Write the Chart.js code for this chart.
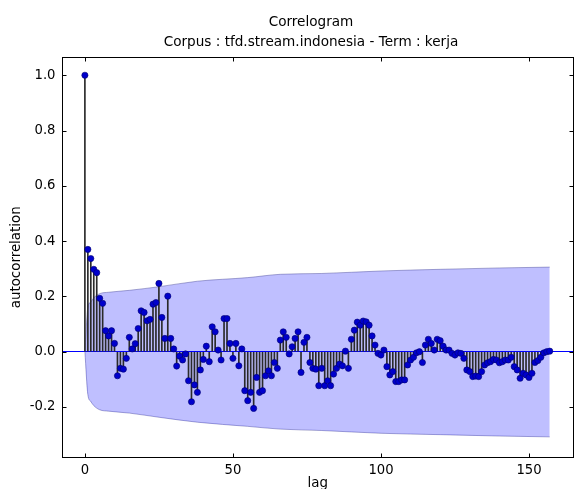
<!DOCTYPE html>
<html>
<head>
<meta charset="utf-8">
<script src="https://cdn.jsdelivr.net/npm/chart.js@4.4.1/dist/chart.umd.min.js"></script>
<style>
  html, body { margin: 0; padding: 0; background: #fff; }
  #wrap { width: 579px; height: 489px; position: relative; }
</style>
</head>
<body>
<div id="wrap"><canvas id="acfChart"></canvas></div>
<script>
// autocorrelation, one value per lag (0..157)
var acf = [
    1.0, 0.370, 0.337, 0.298, 0.286, 0.193, 0.175, 0.076, 0.057, 0.076,
    0.030, -0.087, -0.060, -0.063, -0.024, 0.052, 0.010, 0.029, 0.084, 0.148,
    0.142, 0.112, 0.117, 0.172, 0.178, 0.247, 0.124, 0.048, 0.201, 0.048,
    0.010, -0.052, -0.016, -0.030, -0.008, -0.105, -0.181, -0.120, -0.147, -0.066,
    -0.028, 0.020, -0.036, 0.090, 0.072, 0.006, -0.030, 0.120, 0.120, 0.030,
    -0.024, 0.030, -0.051, 0.010, -0.141, -0.177, -0.147, -0.205, -0.093, -0.147,
    -0.141, -0.087, -0.069, -0.087, -0.039, -0.060, 0.042, 0.072, 0.052, -0.008,
    0.018, 0.048, 0.072, -0.075, 0.034, 0.052, -0.039, -0.060, -0.063, -0.123,
    -0.060, -0.123, -0.105, -0.123, -0.081, -0.060, -0.045, -0.051, 0.002, -0.060,
    0.045, 0.078, 0.107, 0.096, 0.111, 0.108, 0.096, 0.057, 0.024, -0.006,
    -0.012, 0.006, -0.054, -0.084, -0.072, -0.108, -0.108, -0.102, -0.102, -0.048,
    -0.030, -0.020, -0.004, 0.000, -0.039, 0.024, 0.045, 0.030, 0.006, 0.045,
    0.040, 0.020, 0.006, 0.006, -0.006, -0.012, -0.004, -0.006, -0.024, -0.066,
    -0.072, -0.090, -0.088, -0.090, -0.072, -0.048, -0.040, -0.036, -0.028, -0.030,
    -0.040, -0.036, -0.030, -0.030, -0.020, -0.054, -0.066, -0.096, -0.078, -0.084,
    -0.093, -0.078, -0.039, -0.032, -0.020, -0.004, 0.000, 0.002
];
var lags = acf.map(function (v, i) { return i; });

var bandLags  = [0, 1, 2, 3, 5, 8, 15, 25, 38, 55, 66, 80, 100, 120, 140, 157];
var bandUpper = [0, 0.16, 0.18, 0.195, 0.21, 0.215, 0.222, 0.235, 0.255, 0.268, 0.28, 0.283, 0.292, 0.298, 0.303, 0.306];
var bandLower = [0, -0.155, -0.18, -0.195, -0.21, -0.215, -0.222, -0.237, -0.255, -0.27, -0.28, -0.285, -0.295, -0.3, -0.305, -0.308];

var xTicks = [0, 50, 100, 150];
var yTicks = [-0.2, 0.0, 0.2, 0.4, 0.6, 0.8, 1.0];
var titleLines = ['Correlogram', 'Corpus : tfd.stream.indonesia - Term : kerja'];

var FONT = '"DejaVu Sans", sans-serif';

function pts(xs, ys) {
    return xs.map(function (x, i) { return { x: x, y: ys[i] }; });
}

// box around the axes, inward ticks, and the two title lines
var framePlugin = {
    id: 'frame',
    afterDatasetsDraw: function (chart) {
        var a = chart.chartArea, c = chart.ctx;
        var L = Math.round(a.left) + 0.5, R = Math.round(a.right) - 0.5;
        var T = Math.round(a.top) + 0.5, B = Math.round(a.bottom) - 0.5;
        c.save();
        c.strokeStyle = '#000';
        c.lineWidth = 1;
        c.strokeRect(L, T, R - L, B - T);
        c.beginPath();
        chart.scales.x.ticks.forEach(function (t) {
            var px = Math.round(chart.scales.x.getPixelForValue(t.value)) + 0.5;
            c.moveTo(px, B); c.lineTo(px, B - 4);
            c.moveTo(px, T); c.lineTo(px, T + 4);
        });
        chart.scales.y.ticks.forEach(function (t) {
            var py = Math.round(chart.scales.y.getPixelForValue(t.value)) + 0.5;
            c.moveTo(L, py); c.lineTo(L + 4, py);
            c.moveTo(R, py); c.lineTo(R - 4, py);
        });
        c.stroke();
        c.restore();
    },
    afterDraw: function (chart) {
        var c = chart.ctx;
        c.save();
        c.fillStyle = '#000';
        c.font = '13.6px ' + FONT;
        c.textAlign = 'center';
        c.textBaseline = 'middle';
        c.fillText(titleLines[0], 311, 22);
        c.fillText(titleLines[1], 311, 42);
        c.restore();
    }
};

var ctx = document.getElementById('acfChart').getContext('2d');
var acfChart = new Chart(ctx, {
    type: 'scatter',
    data: {
        datasets: [{
            // band upper edge, filled down to the lower edge
            type: 'line',
            data: pts(bandLags, bandUpper),
            borderColor: 'rgba(70,70,150,0.45)',
            borderWidth: 1,
            backgroundColor: 'rgba(0,0,255,0.25)',
            fill: '+1',
            pointRadius: 0,
            cubicInterpolationMode: 'monotone',
            order: 3
        }, {
            type: 'line',
            data: pts(bandLags, bandLower),
            borderColor: 'rgba(70,70,150,0.45)',
            borderWidth: 1,
            fill: false,
            pointRadius: 0,
            cubicInterpolationMode: 'monotone',
            order: 3
        }, {
            // stems
            type: 'bar',
            data: pts(lags, acf),
            backgroundColor: '#2a2a2a',
            barThickness: 1,
            order: 2
        }, {
            // markers
            type: 'scatter',
            data: pts(lags, acf),
            pointRadius: 3.1,
            pointBackgroundColor: '#0000cc',
            pointBorderColor: '#00006e',
            pointBorderWidth: 0.6,
            order: 1
        }]
    },
    options: {
        responsive: true,
        maintainAspectRatio: false,
        animation: false,
        layout: { padding: { left: 0, right: 5, top: 57, bottom: 0 } },
        plugins: {
            legend: { display: false },
            tooltip: { enabled: false }
        },
        scales: {
            x: {
                type: 'linear',
                min: -7.9,
                max: 165.2,
                offset: false,
                afterBuildTicks: function (s) {
                    s.ticks = xTicks.map(function (v) { return { value: v }; });
                },
                afterFit: function (s) { s.height = 31.4; },
                grid: { display: false, drawTicks: false },
                border: { display: false },
                ticks: {
                    color: '#000',
                    padding: 5,
                    font: { family: FONT, size: 13.2 },
                    callback: function (v) { return String(v); }
                },
                title: {
                    display: true,
                    text: 'lag',
                    color: '#000',
                    font: { family: FONT, size: 13.4 },
                    padding: { top: 0, bottom: -3 }
                }
            },
            y: {
                min: -0.383,
                max: 1.066,
                afterBuildTicks: function (s) {
                    s.ticks = yTicks.map(function (v) { return { value: v }; });
                },
                afterFit: function (s) { s.width = 61.5; },
                grid: {
                    drawTicks: false,
                    color: function (c) {
                        return c.tick && Math.abs(c.tick.value) < 1e-9 ? '#0000ff' : 'rgba(0,0,0,0)';
                    }
                },
                border: { display: false },
                ticks: {
                    color: '#000',
                    padding: 6,
                    font: { family: FONT, size: 13.2 },
                    callback: function (v) { return v.toFixed(1); }
                },
                title: {
                    display: true,
                    text: 'autocorrelation',
                    color: '#000',
                    font: { family: FONT, size: 13.4 },
                    padding: { top: 8, bottom: 0 }
                }
            }
        }
    },
    plugins: [framePlugin]
});
</script>
</body>
</html>
